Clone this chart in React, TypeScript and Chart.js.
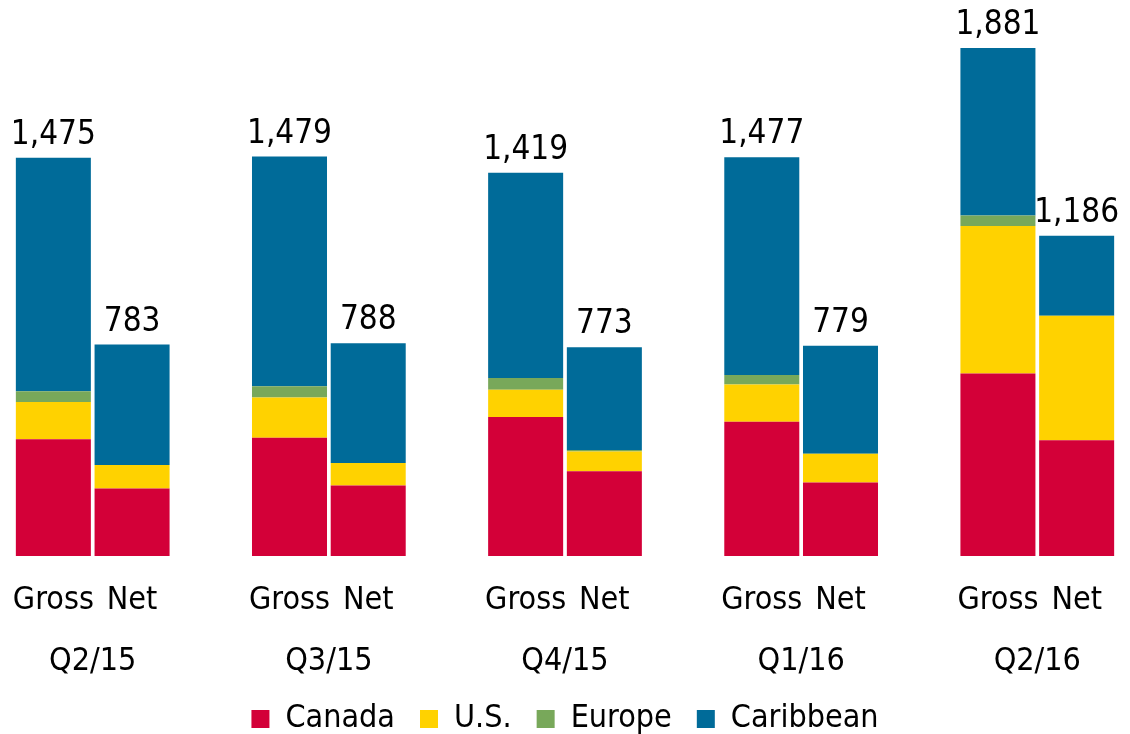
import React, { useEffect, useRef } from "react";
import { Chart, registerables } from "chart.js";

Chart.register(...registerables);

// Quarters and bar kinds
const quarters = ["Q2/15", "Q3/15", "Q4/15", "Q1/16", "Q2/16"];
const barKinds = ["Gross", "Net"];

// Series values (Gross, Net per quarter)
const canadaGross = [432, 438, 515, 497, 676];
const canadaNet = [250, 261, 314, 272, 429];
const usGross = [138, 149, 101, 138, 546];
const usNet = [87, 83, 73, 107, 461];
const europeGross = [40, 42, 43, 35, 39];
const europeNet = [0, 0, 6, 0, 0];
const caribbeanGross = [865, 850, 760, 807, 620];
const caribbeanNet = [446, 444, 380, 400, 296];

const seriesNames = ["Canada", "U.S.", "Europe", "Caribbean"];
const seriesColors = ["#D30038", "#FFD200", "#78A85A", "#006B99"];

const FONT = "'DejaVu Sans Condensed', 'DejaVu Sans', sans-serif";

// Build 14 slots: Gross, Net, (gap), Gross, Net, (gap), ...
function buildSlots<T>(gross: T[], net: T[], gap: T): T[] {
  const out: T[] = [];
  quarters.forEach((_, i) => {
    out.push(gross[i], net[i]);
    if (i < quarters.length - 1) out.push(gap);
  });
  return out;
}

const xLabels = buildSlots(
  quarters.map(() => barKinds[0]),
  quarters.map(() => barKinds[1]),
  ""
);

const seriesData = [
  buildSlots<number | null>(canadaGross, canadaNet, null),
  buildSlots<number | null>(usGross, usNet, null),
  buildSlots<number | null>(europeGross, europeNet, null),
  buildSlots<number | null>(caribbeanGross, caribbeanNet, null),
];

const totalsPlugin = {
  id: "totals",
  afterDatasetsDraw(chart: any) {
    const { ctx } = chart;
    const yScale = chart.scales.y;
    const meta = chart.getDatasetMeta(chart.data.datasets.length - 1);
    ctx.save();
    ctx.font = `33px ${FONT}`;
    ctx.fillStyle = "#000";
    ctx.textAlign = "center";
    ctx.textBaseline = "alphabetic";
    xLabels.forEach((lab, i) => {
      if (!lab) return;
      let total = 0;
      chart.data.datasets.forEach((ds: any) => {
        total += ds.data[i] || 0;
      });
      const el = meta.data[i];
      if (!el) return;
      const y = yScale.getPixelForValue(total);
      ctx.fillText(total.toLocaleString("en-US"), el.x, y - 14);
    });
    ctx.restore();
  },
};

const noSidePadding = (scale: any) => {
  scale.paddingLeft = 0;
  scale.paddingRight = 0;
};

export default function App() {
  const ref = useRef<HTMLCanvasElement | null>(null);
  useEffect(() => {
    if (!ref.current) return;
    const chart = new Chart(ref.current, {
      type: "bar",
      data: {
        labels: xLabels,
        datasets: seriesNames.map((name, k) => ({
          label: name,
          data: seriesData[k],
          backgroundColor: seriesColors[k],
          borderWidth: 0,
          barPercentage: 1,
          categoryPercentage: 0.953,
        })),
      },
      options: {
        animation: false,
        responsive: true,
        maintainAspectRatio: false,
        layout: { padding: { left: 14, right: 14, top: 0, bottom: -11 } },
        plugins: {
          legend: {
            position: "bottom",
            labels: {
              boxWidth: 18,
              boxHeight: 18,
              padding: 25,
              color: "#000",
              font: { size: 32, family: FONT },
            },
          },
          tooltip: { enabled: false },
        },
        scales: {
          x: {
            stacked: true,
            grid: { display: false, drawTicks: false },
            border: { display: false },
            afterFit: noSidePadding,
            ticks: {
              padding: 25.6,
              color: "#000",
              autoSkip: false,
              maxRotation: 0,
              font: { size: 32, family: FONT },
            },
          },
          x2: {
            type: "linear",
            position: "bottom",
            min: -0.5,
            max: xLabels.length - 0.5,
            offset: false,
            grid: { display: false, drawTicks: false },
            border: { display: false },
            afterFit: noSidePadding,
            afterBuildTicks: (axis: any) => {
              axis.ticks = quarters.map((_, i) => ({ value: i * 3 + 0.5 }));
            },
            ticks: {
              padding: -3,
              color: "#000",
              autoSkip: false,
              maxRotation: 0,
              font: { size: 32, family: FONT },
              callback: (v: any) => quarters[Math.round((Number(v) - 0.5) / 3)] ?? "",
            },
          },
          y: {
            stacked: true,
            display: false,
            min: 0,
            max: 2059,
          },
        },
      },
      plugins: [totalsPlugin],
    });
    return () => chart.destroy();
  }, []);
  return (
    <div style={{ position: "fixed", left: 0, top: 0, width: 1130, height: 734, background: "#fff" }}>
      <canvas ref={ref} />
    </div>
  );
}
